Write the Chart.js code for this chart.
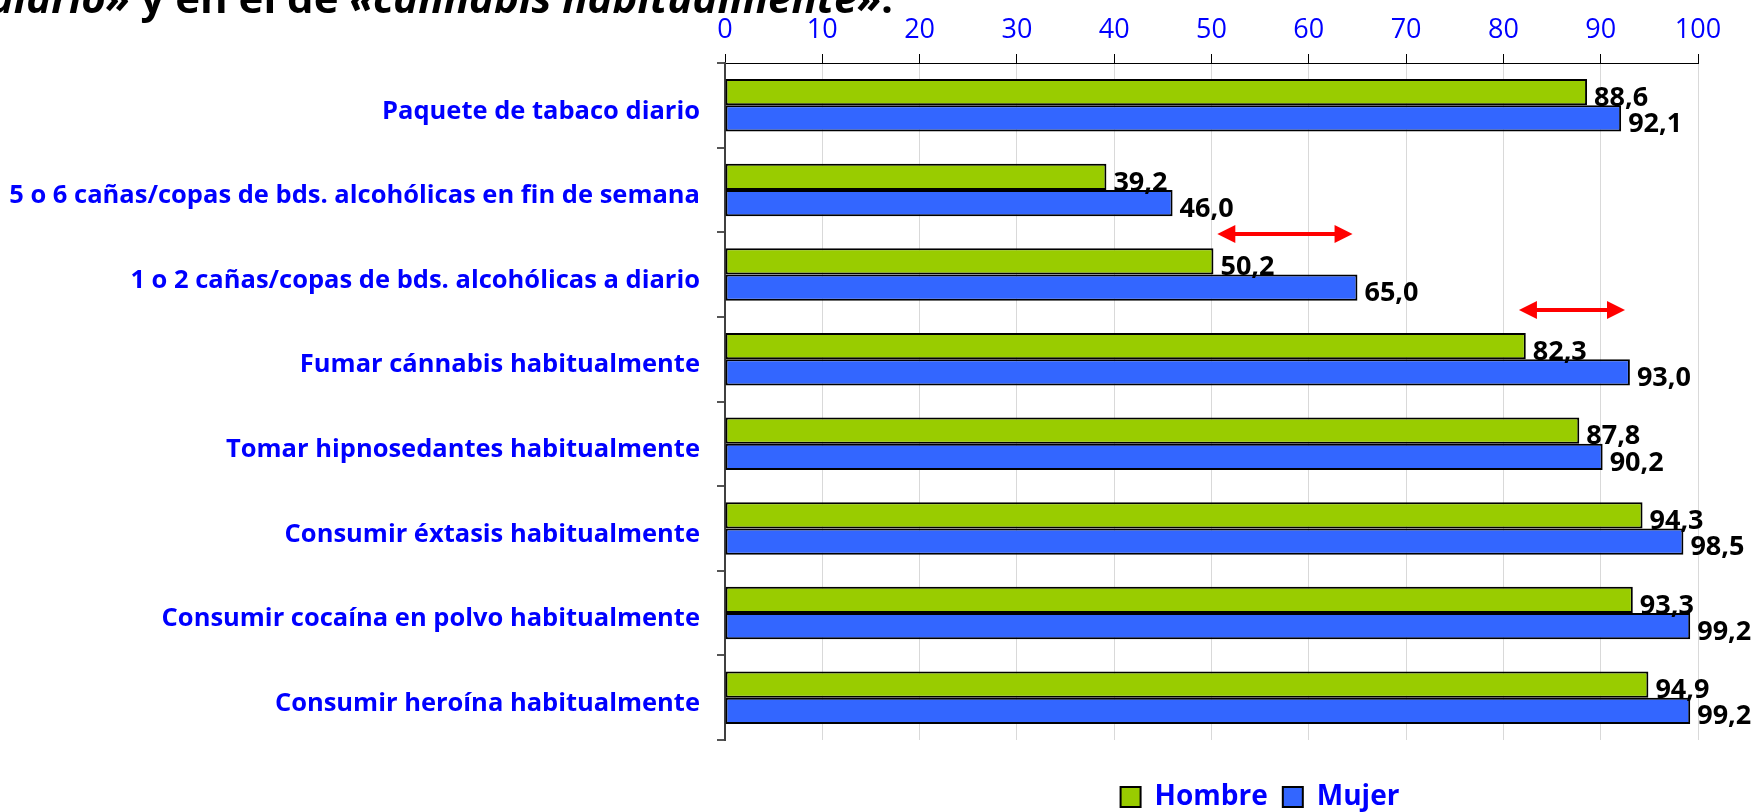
<!DOCTYPE html>
<html>
<head>
<meta charset="utf-8">
<script src="https://cdn.jsdelivr.net/npm/chart.js@4.4.1/dist/chart.umd.min.js"></script>
<style>
  html, body { margin: 0; padding: 0; background: #fff; }
</style>
</head>
<body>
<canvas id="chart" width="1751" height="812"></canvas>
<script>
var categories = [
  'Paquete de tabaco diario',
  '5 o 6 cañas/copas de bds. alcohólicas en fin de semana',
  '1 o 2 cañas/copas de bds. alcohólicas a diario',
  'Fumar cánnabis habitualmente',
  'Tomar hipnosedantes habitualmente',
  'Consumir éxtasis habitualmente',
  'Consumir cocaína en polvo habitualmente',
  'Consumir heroína habitualmente'
]
var hombre = [88.6, 39.2, 50.2, 82.3, 87.8, 94.3, 93.3, 94.9]
var mujer = [92.1, 46.0, 65.0, 93.0, 90.2, 98.5, 99.2, 99.2]
var xTicks = [0, 10, 20, 30, 40, 50, 60, 70, 80, 90, 100]

// red double arrows (value units, row = category index)
var arrowFrom = [50.6, 81.6]
var arrowTo = [64.5, 92.5]
var arrowRow = [1.52, 2.42]

var FONT = "'Open Sans', sans-serif"

function fmt(v) {
  return v.toFixed(1).replace('.', ',')
}

var valueLabels = {
  id: 'valueLabels',
  afterDatasetsDraw: function (chart) {
    var ctx = chart.ctx
    ctx.save()
    ctx.font = 'bold 27px ' + FONT
    ctx.fillStyle = '#000'
    ctx.textAlign = 'left'
    ctx.textBaseline = 'middle'
    chart.data.datasets.forEach(function (ds, i) {
      chart.getDatasetMeta(i).data.forEach(function (bar, j) {
        ctx.fillText(fmt(ds.data[j]), bar.x + 7, bar.y + 6)
      })
    })
    ctx.restore()
  }
}

var arrows = {
  id: 'arrows',
  afterDatasetsDraw: function (chart) {
    var ctx = chart.ctx
    var xs = chart.scales.x
    var ys = chart.scales.y
    ctx.save()
    ctx.fillStyle = '#ff0000'
    ctx.strokeStyle = '#ff0000'
    ctx.lineWidth = 4
    for (var i = 0; i < arrowFrom.length; i++) {
      var x1 = xs.getPixelForValue(arrowFrom[i])
      var x2 = xs.getPixelForValue(arrowTo[i])
      var y = ys.getPixelForValue(arrowRow[i])
      var hl = 18, hw = 9
      ctx.beginPath()
      ctx.moveTo(x1 + hl - 2, y)
      ctx.lineTo(x2 - hl + 2, y)
      ctx.stroke()
      ctx.beginPath()
      ctx.moveTo(x1, y)
      ctx.lineTo(x1 + hl, y - hw)
      ctx.lineTo(x1 + hl, y + hw)
      ctx.closePath()
      ctx.fill()
      ctx.beginPath()
      ctx.moveTo(x2, y)
      ctx.lineTo(x2 - hl, y - hw)
      ctx.lineTo(x2 - hl, y + hw)
      ctx.closePath()
      ctx.fill()
    }
    ctx.restore()
  }
}

// heading that is cut off at the top left
var heading = {
  id: 'heading',
  afterDraw: function (chart) {
    var ctx = chart.ctx
    var parts = [
      ['diario»', 'italic bold 42px '],
      [' y en el de ', 'bold 42px '],
      ['«cánnabis habitualmente»', 'italic bold 42px '],
      ['.', 'bold 42px ']
    ]
    ctx.save()
    ctx.fillStyle = '#000'
    ctx.textBaseline = 'alphabetic'
    ctx.textAlign = 'left'
    var total = 0
    parts.forEach(function (p) {
      ctx.font = p[1] + FONT
      total += ctx.measureText(p[0]).width
    })
    var x = 893 - total
    parts.forEach(function (p) {
      ctx.font = p[1] + FONT
      ctx.fillText(p[0], x, 13)
      x += ctx.measureText(p[0]).width
    })
    ctx.restore()
  }
}

// legend: fixed height, moved right and down like the original
var legendPlace = {
  id: 'legendPlace',
  beforeLayout: function (chart) {
    var lg = chart.legend
    if (lg && !lg._fixedFit) {
      var fit = lg.fit
      lg.fit = function () {
        fit.call(this)
        this.height = 72
      }
      lg._fixedFit = true
    }
  },
  afterUpdate: function (chart) {
    var lg = chart.legend
    var dx = 1260 - (lg.left + lg.right) / 2
    var dy = 797 - (lg.top + 15 + 14)
    lg.left += dx
    lg.right += dx
    lg.top += dy
    lg.bottom += dy
  }
}

var ctx = document.getElementById('chart').getContext('2d')
var chart = new Chart(ctx, {
  type: 'bar',
  data: {
    labels: categories,
    datasets: [{
      label: 'Hombre',
      data: hombre,
      backgroundColor: '#99cc00',
      borderColor: '#000',
      borderWidth: 2,
      borderSkipped: false
    }, {
      label: 'Mujer',
      data: mujer,
      backgroundColor: '#3366ff',
      borderColor: '#000',
      borderWidth: 2,
      borderSkipped: false
    }]
  },
  options: {
    indexAxis: 'y',
    responsive: false,
    animation: false,
    barPercentage: 1,
    categoryPercentage: 0.62,
    layout: { padding: { left: 0, right: 53, top: 0, bottom: 0 } },
    scales: {
      x: {
        position: 'top',
        min: 0,
        max: 100,
        afterBuildTicks: function (scale) {
          scale.ticks = xTicks.map(function (v) { return { value: v } })
        },
        afterFit: function (scale) { scale.height = 63 },
        ticks: {
          color: '#0000ff',
          font: { family: FONT, size: 27 },
          padding: 7,
          maxRotation: 0
        },
        grid: {
          color: '#d9d9d9',
          tickColor: '#000',
          tickLength: 9,
          lineWidth: 1
        },
        border: { color: '#000', width: 1 }
      },
      y: {
        afterFit: function (scale) { scale.width = 725 },
        ticks: {
          color: '#0000ff',
          font: { family: FONT, size: 25.5, weight: 'bold' },
          padding: 17,
          labelOffset: 6
        },
        grid: {
          offset: true,
          drawOnChartArea: true,
          color: function (c) { return c.index === categories.length ? '#d0d0d0' : 'rgba(0,0,0,0)' },
          lineWidth: 2,
          tickColor: '#555',
          tickLength: 8
        },
        border: { color: '#404040', width: 2 }
      }
    },
    plugins: {
      legend: {
        position: 'bottom',
        labels: {
          color: '#0000ff',
          font: { family: FONT, size: 28, weight: 'bold' },
          boxWidth: 20,
          boxHeight: 20,
          padding: 15
        }
      },
      tooltip: { enabled: false }
    }
  },
  plugins: [valueLabels, arrows, heading, legendPlace]
})
</script>
</body>
</html>
